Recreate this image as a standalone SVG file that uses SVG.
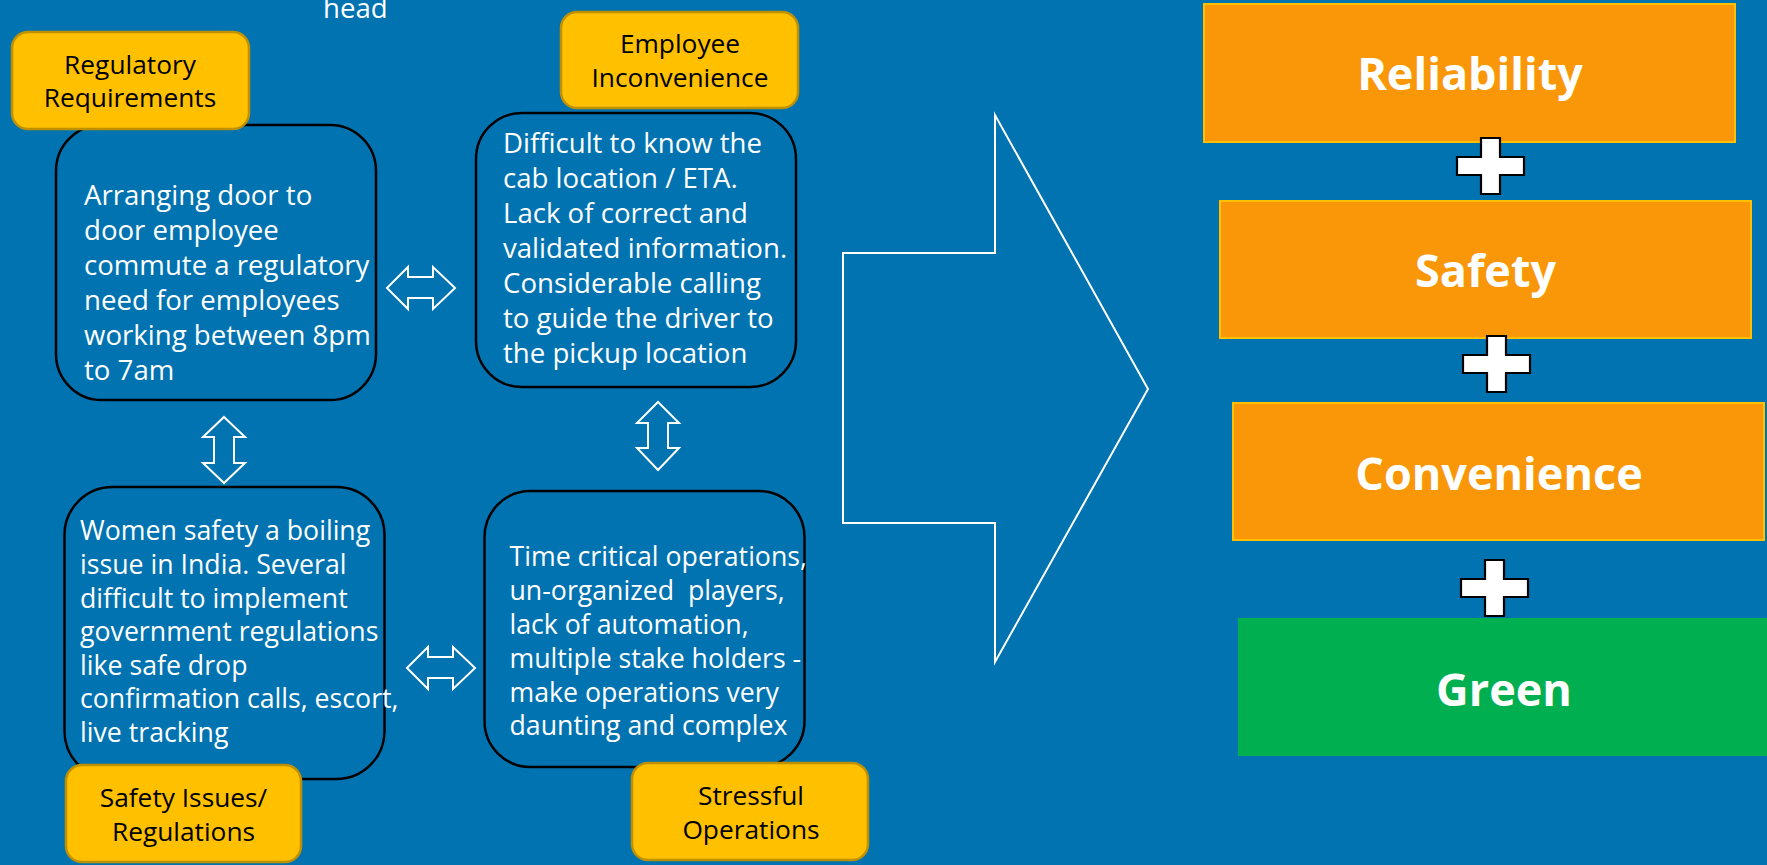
<svg xmlns="http://www.w3.org/2000/svg" width="1767" height="865" viewBox="0 0 1767 865">
<style>
.bg{fill:#0173B1}
.body{fill:#0173B1;stroke:#000;stroke-width:2.5}
.lbl{fill:#FFC000;stroke:#BF9000;stroke-width:2.5}
.bt{font-family:"Open Sans","Noto Sans","DejaVu Sans",sans-serif;font-size:27.6px;fill:#fff}
.bt2{font-family:"Open Sans","Noto Sans","DejaVu Sans",sans-serif;font-size:26.7px;fill:#fff}
.lt{font-family:"Open Sans","Noto Sans","DejaVu Sans",sans-serif;font-size:26.3px;fill:#000;text-anchor:middle}
.ob{fill:#F99708;stroke:#FFC000;stroke-width:2}
.gb{fill:#00B050}
.rt{font-family:"Open Sans","Noto Sans","DejaVu Sans",sans-serif;font-size:45px;font-weight:bold;fill:#fff;text-anchor:middle}
.arr{fill:none;stroke:#fff;stroke-width:2;stroke-linejoin:miter}
.plus{fill:#fff;stroke:#000;stroke-width:2.2}
</style>
<defs>
<path id="plusShape" d="M-9.5,-28 H9.5 V-9 H33.5 V9 H9.5 V28 H-9.5 V9 H-33.5 V-9 H-9.5 Z"/>
</defs>
<rect class="bg" x="0" y="0" width="1767" height="865"/>
<text class="bt" x="323" y="18">head</text>

<g id="connectors">
<polygon class="arr" points="387,288 408,267 408,277 433,277 433,267 455,288 433,309 433,298 408,298 408,309"/>
<polygon class="arr" points="407,668 428,647 428,657 453,657 453,647 475,668 453,689 453,678 428,678 428,689"/>
<polygon class="arr" points="224,417 245,437 234,437 234,463 245,463 224,483 203,463 214,463 214,437 203,437"/>
<polygon class="arr" points="658,402 679,423 668,423 668,448 679,448 658,470 637,448 648,448 648,423 637,423"/>
<polygon class="arr" points="843,253 995,253 995,115 1148,389 995,662 995,523 843,523"/>
</g>

<g id="node-regulatory">
<rect class="body" x="56" y="125" width="320" height="275" rx="46"/>
<text class="bt"><tspan x="84" y="205">Arranging door to</tspan><tspan x="84" y="240">door employee</tspan><tspan x="84" y="275">commute a regulatory</tspan><tspan x="84" y="310">need for employees</tspan><tspan x="84" y="345">working between 8pm</tspan><tspan x="84" y="380">to 7am</tspan></text>
<rect class="lbl" x="12" y="32" width="237" height="97" rx="16"/>
<text class="lt"><tspan x="130" y="74">Regulatory</tspan><tspan x="130" y="107">Requirements</tspan></text>
</g>

<g id="node-employee">
<rect class="body" x="476" y="113" width="320" height="274" rx="46"/>
<text class="bt"><tspan x="503" y="153">Difficult to know the</tspan><tspan x="503" y="188">cab location / ETA.</tspan><tspan x="503" y="223">Lack of correct and</tspan><tspan x="503" y="258">validated information.</tspan><tspan x="503" y="293">Considerable calling</tspan><tspan x="503" y="328">to guide the driver to</tspan><tspan x="503" y="363">the pickup location</tspan></text>
<rect class="lbl" x="561" y="12" width="237" height="96" rx="16"/>
<text class="lt"><tspan x="680" y="53">Employee</tspan><tspan x="680" y="87">Inconvenience</tspan></text>
</g>

<g id="node-safety-issues">
<rect class="body" x="64.5" y="487" width="320" height="292" rx="48"/>
<text class="bt2"><tspan x="80" y="540">Women safety a boiling</tspan><tspan x="80" y="574">issue in India. Several</tspan><tspan x="80" y="608">difficult to implement</tspan><tspan x="80" y="641">government regulations</tspan><tspan x="80" y="675">like safe drop</tspan><tspan x="80" y="708">confirmation calls, escort,</tspan><tspan x="80" y="742">live tracking</tspan></text>
<rect class="lbl" x="66" y="765" width="235" height="97" rx="16"/>
<text class="lt"><tspan x="183.5" y="807">Safety Issues/</tspan><tspan x="183.5" y="841">Regulations</tspan></text>
</g>

<g id="node-stressful">
<rect class="body" x="484.5" y="491" width="320" height="276" rx="46"/>
<text class="bt2" xml:space="preserve"><tspan x="509.5" y="566">Time critical operations,</tspan><tspan x="509.5" y="600">un-organized  players,</tspan><tspan x="509.5" y="634">lack of automation,</tspan><tspan x="509.5" y="668">multiple stake holders -</tspan><tspan x="509.5" y="702">make operations very</tspan><tspan x="509.5" y="735">daunting and complex</tspan></text>
<rect class="lbl" x="632" y="763" width="236" height="97" rx="16"/>
<text class="lt"><tspan x="751" y="805">Stressful</tspan><tspan x="751" y="839">Operations</tspan></text>
</g>

<g id="node-reliability">
<rect class="ob" x="1204" y="4" width="531" height="138"/>
<text class="rt" x="1470" y="90">Reliability</text>
</g>
<g id="node-safety">
<rect class="ob" x="1220" y="201" width="531" height="137"/>
<text class="rt" x="1485.5" y="287">Safety</text>
</g>
<g id="node-convenience">
<rect class="ob" x="1233" y="403" width="531" height="137"/>
<text class="rt" x="1499" y="490">Convenience</text>
</g>
<g id="node-green">
<rect class="gb" x="1238" y="618" width="531" height="138"/>
<text class="rt" x="1504" y="706">Green</text>
</g>

<g id="plus-signs">
<use href="#plusShape" class="plus" transform="translate(1490.5,166)"/>
<use href="#plusShape" class="plus" transform="translate(1496.5,364)"/>
<use href="#plusShape" class="plus" transform="translate(1494.5,588)"/>
</g>
</svg>
